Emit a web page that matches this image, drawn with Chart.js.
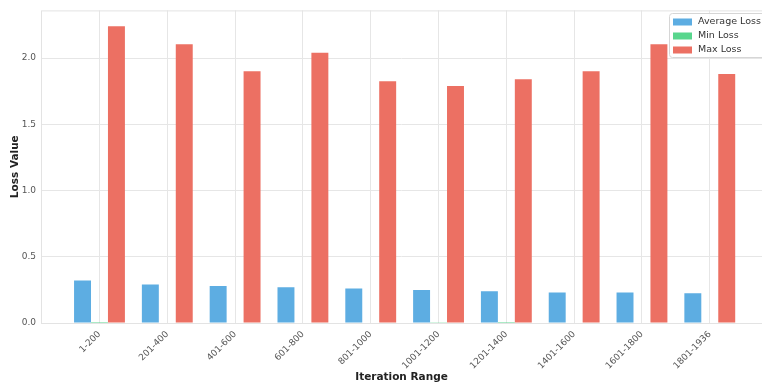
<!DOCTYPE html>
<html>
<head>
<meta charset="utf-8">
<script src="https://cdn.jsdelivr.net/npm/chart.js@4.4.1/dist/chart.umd.min.js"></script>
<style>
  html, body { margin: 0; padding: 0; background: #fff; }
  #wrap { width: 762px; height: 384px; }
</style>
</head>
<body>
<div id="wrap"><canvas id="lossChart" width="762" height="384"></canvas></div>
<script>
// Dados
const faixas = ['1-200', '201-400', '401-600', '601-800', '801-1000', '1001-1200', '1201-1400', '1401-1600', '1601-1800', '1801-1936'];
const perdaMedia = [0.32, 0.29, 0.28, 0.27, 0.26, 0.25, 0.24, 0.23, 0.23, 0.225];
const perdaMinima = [0.008, 0.004, 0.003, 0.003, 0.004, 0.006, 0.007, 0.003, 0.004, 0.003];
const perdaMaxima = [2.24, 2.105, 1.90, 2.04, 1.825, 1.79, 1.84, 1.90, 2.105, 1.88];
const ticksY = [0, 0.5, 1.0, 1.5, 2.0];

const pontos = (valores) => valores.map((v, i) => ({ x: i, y: v }));

// Borda da área do gráfico
const bordaPlugin = {
    id: 'borda',
    beforeDatasetsDraw(chart) {
        const { ctx, chartArea: a } = chart;
        ctx.save();
        ctx.strokeStyle = '#e3e3e3';
        ctx.lineWidth = 1;
        ctx.strokeRect(a.left + 0.5, a.top + 0.5, a.right - a.left, a.bottom - a.top);
        ctx.restore();
    }
};

// Legenda dentro da área, canto superior direito
const legendaPlugin = {
    id: 'legendaInterna',
    afterDraw(chart) {
        const { ctx } = chart;
        const x = 669, y = 13, w = 100, h = 44;
        ctx.save();
        ctx.fillStyle = 'rgba(255,255,255,0.85)';
        ctx.strokeStyle = '#d6d6d6';
        ctx.lineWidth = 1;
        ctx.beginPath();
        ctx.roundRect(x + 0.5, y + 0.5, w, h, 3);
        ctx.fill();
        ctx.stroke();
        ctx.font = '9.5px "DejaVu Sans"';
        ctx.textBaseline = 'middle';
        chart.data.datasets.forEach((ds, i) => {
            const cy = y + 9 + i * 14;
            ctx.fillStyle = ds.backgroundColor;
            ctx.fillRect(x + 4, cy - 3.5, 19, 7);
            ctx.fillStyle = '#333';
            ctx.fillText(ds.label, x + 29, cy);
        });
        ctx.restore();
    }
};

const ctx = document.getElementById('lossChart').getContext('2d');
new Chart(ctx, {
    type: 'bar',
    data: {
        datasets: [
            { label: 'Average Loss', data: pontos(perdaMedia), backgroundColor: 'rgba(93, 173, 226, 1)' },
            { label: 'Min Loss', data: pontos(perdaMinima), backgroundColor: 'rgba(88, 214, 141, 1)' },
            { label: 'Max Loss', data: pontos(perdaMaxima), backgroundColor: 'rgba(236, 112, 99, 1)' }
        ]
    },
    options: {
        responsive: false,
        animation: false,
        devicePixelRatio: 1,
        layout: { padding: { top: 8, right: 0, bottom: 0, left: 0 } },
        datasets: { bar: { categoryPercentage: 0.75, barPercentage: 1, borderWidth: 0 } },
        plugins: { legend: { display: false }, tooltip: { enabled: false } },
        scales: {
            x: {
                type: 'linear',
                offset: false,
                min: -0.8625,
                max: 9.77,
                afterBuildTicks: (scale) => { scale.ticks = faixas.map((_, i) => ({ value: i })); },
                afterFit: (scale) => { scale.height = 61; },
                grid: { color: '#e6e6e6', drawTicks: false, offset: false },
                border: { display: false },
                ticks: {
                    minRotation: 45,
                    maxRotation: 45,
                    padding: 6,
                    color: '#555',
                    font: { family: 'DejaVu Sans', size: 9 },
                    callback: (v) => faixas[v]
                },
                title: {
                    display: true,
                    text: 'Iteration Range',
                    color: '#222',
                    font: { family: 'DejaVu Sans', size: 10.5, weight: 'bold' },
                    padding: { top: 0, bottom: 0 }
                }
            },
            y: {
                min: 0,
                max: 2.36,
                afterBuildTicks: (scale) => { scale.ticks = ticksY.map(v => ({ value: v })); },
                afterFit: (scale) => { scale.width = 41; },
                grid: { color: '#e6e6e6', drawTicks: false },
                border: { display: false },
                ticks: {
                    padding: 5,
                    color: '#555',
                    font: { family: 'DejaVu Sans', size: 9 },
                    callback: (v) => v.toFixed(1)
                },
                title: {
                    display: true,
                    text: 'Loss Value',
                    color: '#222',
                    font: { family: 'DejaVu Sans', size: 10.5, weight: 'bold' },
                    padding: { top: 9, bottom: 0 }
                }
            }
        }
    },
    plugins: [bordaPlugin, legendaPlugin]
});
</script>
</body>
</html>
